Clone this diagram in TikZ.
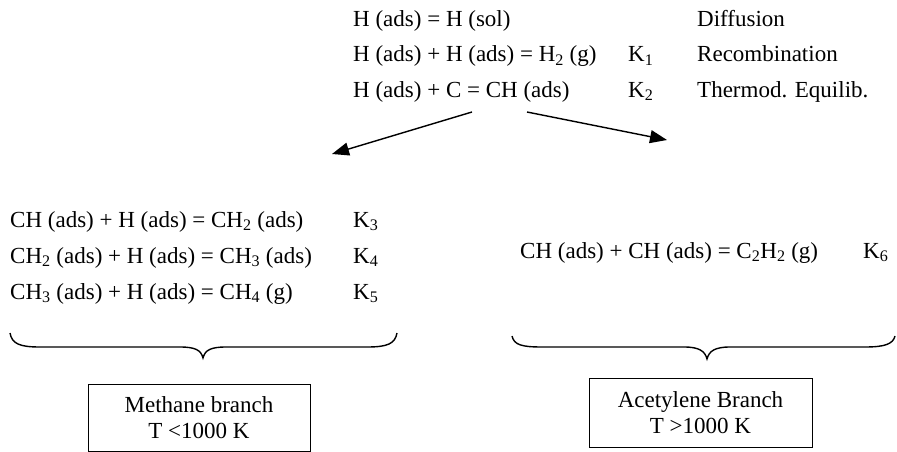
\documentclass[tikz,border=0pt]{standalone}
\usepackage{fontspec}
\setmainfont{Liberation Serif}
\usetikzlibrary{arrows.meta}
\newcommand{\sbs}[1]{\textsubscript{#1}}
\begin{document}
\begin{tikzpicture}[x=1pt,y=-1pt,
  txt/.style={anchor=base west,inner sep=0pt,font=\fontsize{23}{26}\selectfont},
  boxnode/.style={draw,line width=1pt,align=center,inner sep=0pt,font=\fontsize{23}{26}\selectfont},
  arr/.style={line width=1.4pt,-{Triangle[length=17pt,width=13pt]}},
  brc/.style={line width=1.4pt}]
\useasboundingbox (0,0) rectangle (897,452);
% top equations
\node[txt] (e1) at (353,27) {H (ads) = H (sol)};
\node[txt] (e2) at (353,62) {H (ads) + H (ads) = H\sbs{2} (g)};
\node[txt] (e3) at (353,97) {H (ads) + C = CH (ads)};
\node[txt] (k1) at (628,62) {K\sbs{1}};
\node[txt] (k2) at (628,97) {K\sbs{2}};
\node[txt] (l1) at (697,27) {Diffusion};
\node[txt] (l2) at (697,62) {Recombination};
\node[txt] (l3) at (697,97) {Thermod. Equilib.};
% arrows
\coordinate (a1s) at (472,112);
\coordinate (a1e) at (332,154);
\coordinate (a2s) at (527,112);
\coordinate (a2e) at (667,140);
\draw[arr] (a1s) -- (a1e);
\draw[arr] (a2s) -- (a2e);
% methane branch
\node[txt] (m1) at (10,227) {CH (ads) + H (ads) = CH\sbs{2} (ads)};
\node[txt] (m2) at (10,263) {CH\sbs{2} (ads) + H (ads) = CH\sbs{3} (ads)};
\node[txt] (m3) at (10,299) {CH\sbs{3} (ads) + H (ads) = CH\sbs{4} (g)};
\node[txt] (k3) at (353,227) {K\sbs{3}};
\node[txt] (k4) at (353,263) {K\sbs{4}};
\node[txt] (k5) at (353,299) {K\sbs{5}};
% acetylene branch
\node[txt] (c1) at (520,258) {CH (ads) + CH (ads) = C\sbs{2}H\sbs{2} (g)};
\node[txt] (k6) at (863,258) {K\sbs{6}};
% braces
\draw[brc] (10,333) .. controls (12,344) and (20,347) .. (40,347) -- (180,347)
  .. controls (195,347) and (201,350) .. (203,358)
  .. controls (205,350) and (211,347) .. (226,347) -- (367,347)
  .. controls (387,347) and (395,344) .. (397,333);
\draw[brc] (512,336) .. controls (514,345) and (522,347) .. (542,347) -- (684,347)
  .. controls (699,347) and (705,351) .. (707,359)
  .. controls (709,351) and (715,347) .. (730,347) -- (865,347)
  .. controls (885,347) and (893,344) .. (895,336);
% boxes
\node[boxnode,minimum width=222pt,minimum height=67pt] (bm) at (199,417.5) {Methane branch\\T <1000 K};
\node[boxnode,minimum width=223pt,minimum height=69pt] (ba) at (700.5,412.5) {Acetylene Branch\\T >1000 K};
\end{tikzpicture}
\end{document}
